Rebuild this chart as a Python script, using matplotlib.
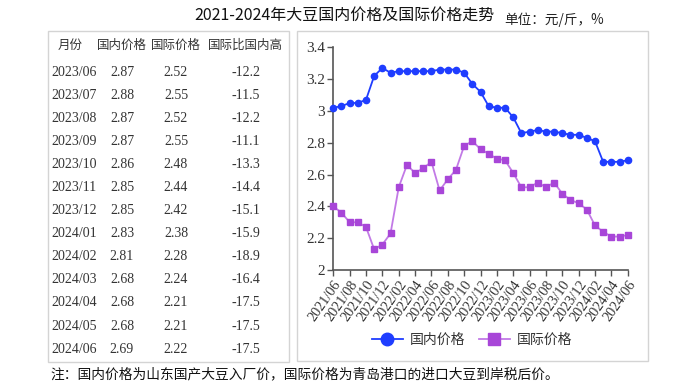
import matplotlib
matplotlib.use("Agg")
import matplotlib.pyplot as plt
from matplotlib.lines import Line2D
from matplotlib.patches import Rectangle
from matplotlib.ticker import FuncFormatter

# ---------------- data ----------------
months = [f"{y}/{m:02d}" for y, m in
          [(2021, m) for m in range(6, 13)] + [(2022, m) for m in range(1, 13)] +
          [(2023, m) for m in range(1, 13)] + [(2024, m) for m in range(1, 7)]]
domestic = [3.02, 3.03, 3.05, 3.05, 3.07, 3.22, 3.27,
            3.24, 3.25, 3.25, 3.25, 3.25, 3.25, 3.26, 3.26, 3.26, 3.24, 3.17, 3.12,
            3.03, 3.02, 3.02, 2.96, 2.86, 2.87, 2.88, 2.87, 2.87, 2.86, 2.85, 2.85,
            2.83, 2.81, 2.68, 2.68, 2.68, 2.69]
international = [2.40, 2.36, 2.30, 2.30, 2.27, 2.13, 2.16,
                 2.23, 2.52, 2.66, 2.61, 2.64, 2.68, 2.50, 2.57, 2.63, 2.78, 2.81, 2.76,
                 2.73, 2.70, 2.69, 2.61, 2.52, 2.52, 2.55, 2.52, 2.55, 2.48, 2.44, 2.42,
                 2.38, 2.28, 2.24, 2.21, 2.21, 2.22]

table_header = ["月份", "国内价格", "国际价格", "国际比国内高"]
table_months = ["2023/06", "2023/07", "2023/08", "2023/09", "2023/10", "2023/11", "2023/12",
                "2024/01", "2024/02", "2024/03", "2024/04", "2024/05", "2024/06"]
table_domestic = ["2.87", "2.88", "2.87", "2.87", "2.86", "2.85", "2.85",
                  "2.83", "2.81", "2.68", "2.68", "2.68", "2.69"]
table_intl = ["2.52", "2.55", "2.52", "2.55", "2.48", "2.44", "2.42",
              "2.38", "2.28", "2.24", "2.21", "2.21", "2.22"]
table_diff = ["-12.2", "-11.5", "-12.2", "-11.1", "-13.3", "-14.4", "-15.1",
              "-15.9", "-18.9", "-16.4", "-17.5", "-17.5", "-17.5"]

title = "2021-2024年大豆国内价格及国际价格走势"
unit = "单位：元/斤，%"
note = "注：国内价格为山东国产大豆入厂价，国际价格为青岛港口的进口大豆到岸税后价。"
series_names = ["国内价格", "国际价格"]

# ---------------- figure ----------------
W, H = 690, 386
fig = plt.figure(figsize=(W / 100, H / 100), dpi=100)
fig.patch.set_facecolor("white")

def fx(x):
    return x / W

def fy(y):
    return 1 - y / H

CJK = ["Noto Sans CJK SC", "DejaVu Sans"]
SERIF = ["Liberation Serif", "Noto Sans CJK SC"]
TXT = "#333333"

# boxes
for (x0, y0, x1, y1) in [(48, 31, 289, 362), (297, 31, 648, 361)]:
    fig.patches.append(Rectangle((fx(x0), fy(y1)), fx(x1) - fx(x0), fy(y0) - fy(y1),
                                 transform=fig.transFigure, fill=False,
                                 edgecolor="#d4d4d4", linewidth=1.0))

# title and unit
fig.text(fx(344), fy(15), title, ha="center", va="center", fontsize=11.5,
         family=CJK, color="#111111")
fig.text(fx(504), fy(20), unit, ha="left", va="center", fontsize=9.8,
         family=CJK, color="#222222")

# table
col_x = [70, 122, 176, 245]
for j in range(4):
    fig.text(fx(col_x[j]), fy(45), table_header[j], ha="center", va="center",
             fontsize=9, family=CJK, color=TXT)
row0, dr = 72.7, 23.03
for i in range(len(table_months)):
    yy = fy(row0 + dr * i)
    fig.text(fx(51), yy, table_months[i], ha="left", va="center", fontsize=10,
             family=SERIF, color=TXT)
    fig.text(fx(122), yy, table_domestic[i], ha="center", va="center", fontsize=10,
             family=SERIF, color=TXT)
    fig.text(fx(176), yy, table_intl[i], ha="center", va="center", fontsize=10,
             family=SERIF, color=TXT)
    fig.text(fx(246), yy, table_diff[i], ha="center", va="center", fontsize=10,
             family=SERIF, color=TXT)

# note
fig.text(fx(50), fy(374), note, ha="left", va="center", fontsize=9.9,
         family=CJK, color="#111111")

# chart
left, right, top, bottom = 333.3, 627.7, 47.3, 270
ax = fig.add_axes([fx(left), fy(bottom), fx(right) - fx(left), fy(top) - fy(bottom)])
ax.set_facecolor("none")
x = list(range(len(months)))
blue = "#1f3dff"
purple_line = "#c27ae6"
purple_mark = "#a846d8"
ax.plot(x, domestic, color=blue, lw=1.3, marker="o", markersize=4.5,
        markerfacecolor=blue, markeredgecolor=blue, clip_on=False, zorder=3)
ax.plot(x, international, color=purple_line, lw=1.3, marker="s", markersize=4.3,
        markerfacecolor=purple_mark, markeredgecolor=purple_mark, clip_on=False, zorder=3)

ax.set_xlim(0, len(months) - 1)
ax.set_ylim(2, 3.4)
ax.set_yticks([2, 2.2, 2.4, 2.6, 2.8, 3.0, 3.2, 3.4])
ax.yaxis.set_major_formatter(FuncFormatter(lambda v, p: f"{v:g}"))
ax.set_xticks(x[::2])
ax.set_xticklabels(months[::2], rotation=55, ha="right", rotation_mode="anchor",
                   family=SERIF, fontsize=10.3, color=TXT)
for lab in ax.get_yticklabels():
    lab.set_family(SERIF)
    lab.set_fontsize(11)
    lab.set_color(TXT)
for s in ["top", "right"]:
    ax.spines[s].set_visible(False)
for s in ["left", "bottom"]:
    ax.spines[s].set_color("#555555")
    ax.spines[s].set_linewidth(1.2)
ax.tick_params(axis="both", direction="out", length=4, width=1, color="#555555", pad=2)

handles = [Line2D([], [], color=blue, lw=1.3, marker="o", markersize=9,
                  markerfacecolor=blue, markeredgecolor=blue),
           Line2D([], [], color=purple_line, lw=1.3, marker="s", markersize=8,
                  markerfacecolor=purple_mark, markeredgecolor=purple_mark)]
fig.legend(handles, series_names, loc="center", bbox_to_anchor=(fx(472), fy(340)),
           ncol=2, frameon=False, prop={"family": CJK, "size": 10},
           handlelength=2.2, columnspacing=1.0, handletextpad=0.5, labelcolor="#333333")

fig.savefig("out.png", dpi=100, facecolor="white")
